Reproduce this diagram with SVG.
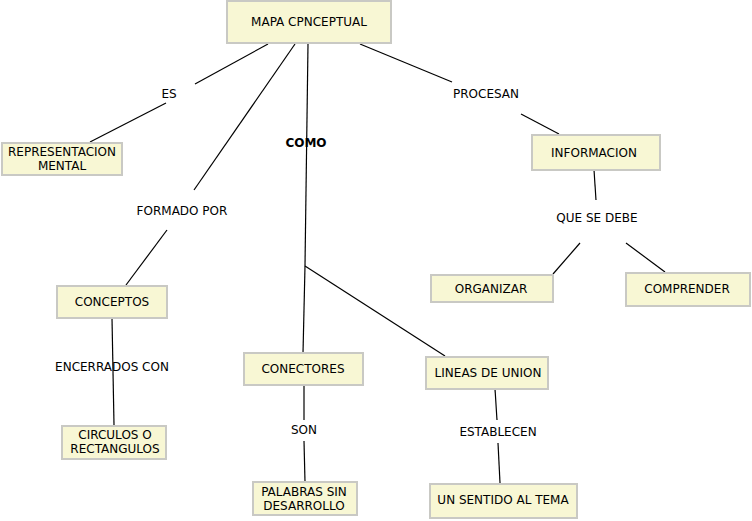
<svg xmlns="http://www.w3.org/2000/svg" width="752" height="521" viewBox="0 0 752 521">
<style>
.box{fill:#f8f7d4;stroke:#c9c9c4;stroke-width:2}
.t{font-family:"DejaVu Sans",Verdana,sans-serif;font-size:12px;fill:#000;text-anchor:middle}
.b{font-weight:bold}
.c line{stroke:#000;stroke-width:1.2}
</style>
<rect width="752" height="521" fill="#fff"/>
<g class="c">
<line x1="268" y1="44" x2="195" y2="84"/>
<line x1="166" y1="103" x2="90" y2="142"/>
<line x1="295" y1="44" x2="194" y2="190"/>
<line x1="167" y1="230" x2="126" y2="285"/>
<line x1="308" y1="44" x2="305" y2="266"/>
<line x1="305" y1="266" x2="303" y2="353"/>
<line x1="305" y1="266" x2="445" y2="356"/>
<line x1="360" y1="44" x2="452" y2="82"/>
<line x1="521" y1="114" x2="559" y2="134"/>
<line x1="594" y1="170" x2="596" y2="200"/>
<line x1="580" y1="243" x2="553" y2="274"/>
<line x1="626" y1="243" x2="665" y2="272"/>
<line x1="112" y1="318" x2="114" y2="425"/>
<line x1="304" y1="385" x2="304" y2="420"/>
<line x1="304" y1="441" x2="305" y2="482"/>
<line x1="495" y1="389" x2="497" y2="420"/>
<line x1="498" y1="443" x2="500" y2="483"/>
</g>
<g id="mapa"><rect class="box" x="227" y="1" width="164" height="42"/><text class="t" x="309" y="26">MAPA CPNCEPTUAL</text></g>
<g id="es"><text class="t" x="169" y="98">ES</text></g>
<g id="rep"><rect class="box" x="2" y="143" width="120" height="32"/><text class="t" x="62" y="156">REPRESENTACION</text><text class="t" x="62" y="170">MENTAL</text></g>
<g id="formado"><text class="t" x="182" y="215">FORMADO POR</text></g>
<g id="como"><text class="t b" x="306" y="147">COMO</text></g>
<g id="procesan"><text class="t" x="486" y="98">PROCESAN</text></g>
<g id="info"><rect class="box" x="532" y="135" width="128" height="35"/><text class="t" x="594" y="157">INFORMACION</text></g>
<g id="quesedebe"><text class="t" x="597" y="222">QUE SE DEBE</text></g>
<g id="organizar"><rect class="box" x="431" y="275" width="122" height="27"/><text class="t" x="491" y="293">ORGANIZAR</text></g>
<g id="comprender"><rect class="box" x="626" y="273" width="124" height="33"/><text class="t" x="687" y="293">COMPRENDER</text></g>
<g id="conceptos"><rect class="box" x="57" y="286" width="110" height="32"/><text class="t" x="112" y="306">CONCEPTOS</text></g>
<g id="encerrados"><text class="t" x="112" y="371">ENCERRADOS CON</text></g>
<g id="circulos"><rect class="box" x="62" y="426" width="104" height="33"/><text class="t" x="115" y="439">CIRCULOS O</text><text class="t" x="115" y="453">RECTANGULOS</text></g>
<g id="conectores"><rect class="box" x="244" y="353" width="119" height="32"/><text class="t" x="303" y="373">CONECTORES</text></g>
<g id="son"><text class="t" x="304" y="434">SON</text></g>
<g id="palabras"><rect class="box" x="253" y="482" width="104" height="33"/><text class="t" x="304" y="496">PALABRAS SIN</text><text class="t" x="304" y="510">DESARROLLO</text></g>
<g id="lineas"><rect class="box" x="426" y="357" width="122" height="32"/><text class="t" x="488" y="377">LINEAS DE UNION</text></g>
<g id="establecen"><text class="t" x="498" y="436">ESTABLECEN</text></g>
<g id="sentido"><rect class="box" x="430" y="484" width="147" height="34"/><text class="t" x="503" y="504">UN SENTIDO AL TEMA</text></g>
</svg>
